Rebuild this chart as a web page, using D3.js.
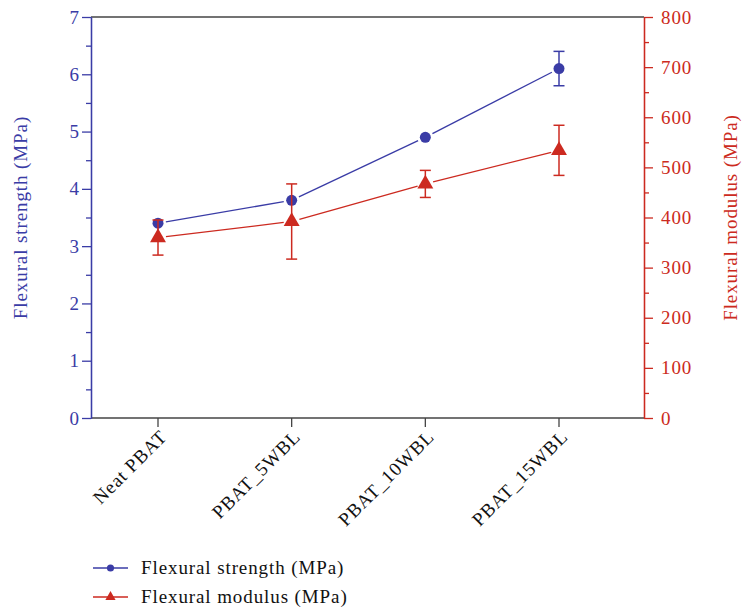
<!DOCTYPE html>
<html>
<head>
<meta charset="utf-8">
<script src="https://cdn.jsdelivr.net/npm/d3@7"></script>
<style>
  body { margin: 0; background: #fff; }
  svg { display: block; font-family: "Liberation Serif", "DejaVu Serif", serif; }
</style>
</head>
<body>
<svg width="746" height="608"></svg>
<script>
// data
var samples = ['Neat PBAT', 'PBAT_5WBL', 'PBAT_10WBL', 'PBAT_15WBL'];
var strength = [3.4, 3.8, 4.9, 6.1];
var strengthErr = [0, 0, 0, 0.3];
var modulus = [360, 392, 467, 534];
var modulusErr = [35, 75, 27, 50];
var leftTicks = [0, 1, 2, 3, 4, 5, 6, 7];
var rightTicks = [0, 100, 200, 300, 400, 500, 600, 700, 800];

var blue = '#3a3ca6';
var red = '#cc2a20';
var frame = '#444';
var fontSize = 19;
var spacing = 0.9;

var plotLeft = 91, plotRight = 644, plotTop = 17, plotBottom = 418;

var svg = d3.select('svg');

var x = d3.scalePoint().domain(samples).range([158, 559]);
var yL = d3.scaleLinear().domain([0, 7]).range([plotBottom, plotTop]);
var yR = d3.scaleLinear().domain([0, 800]).range([plotBottom, plotTop]);

// top frame line
svg.append('line')
  .attr('x1', plotLeft).attr('x2', plotRight)
  .attr('y1', plotTop).attr('y2', plotTop)
  .attr('stroke', frame).attr('stroke-width', 1.3);

// x axis
var gx = svg.append('g')
  .attr('transform', 'translate(0,' + plotBottom + ')');
gx.append('line')
  .attr('x1', plotLeft).attr('x2', plotRight)
  .attr('stroke', frame).attr('stroke-width', 1.3);
gx.selectAll('.xt')
  .data(samples)
  .enter()
  .append('line')
  .attr('x1', d => x(d)).attr('x2', d => x(d))
  .attr('y1', 0).attr('y2', 9)
  .attr('stroke', frame).attr('stroke-width', 1.3);
gx.selectAll('.xl')
  .data(samples)
  .enter()
  .append('text')
  .attr('transform', d => 'translate(' + (x(d) + 10) + ',20) rotate(-45)')
  .attr('text-anchor', 'end')
  .attr('font-size', fontSize)
  .attr('letter-spacing', spacing)
  .attr('fill', '#111')
  .text(d => d);

function styleAxis(g, color) {
  g.selectAll('.domain').attr('stroke', color).attr('stroke-width', 1.3);
  g.selectAll('.tick line').attr('stroke', color).attr('stroke-width', 1.3);
  g.selectAll('.tick text').attr('fill', color).attr('font-size', fontSize)
    .attr('letter-spacing', spacing)
    .attr('font-family', '"Liberation Serif", "DejaVu Serif", serif');
}

// left axis
var gL = svg.append('g').attr('transform', 'translate(' + plotLeft + ',0)');
gL.append('g').call(d3.axisLeft(yL).tickValues(d3.range(0.5, 7, 1)).tickSize(5).tickFormat('').tickSizeOuter(0));
gL.append('g').call(d3.axisLeft(yL).tickValues(leftTicks).tickFormat(d3.format('d')).tickSize(9).tickPadding(2).tickSizeOuter(0));
styleAxis(gL, blue);

// right axis
var gR = svg.append('g').attr('transform', 'translate(' + plotRight + ',0)');
gR.append('g').call(d3.axisRight(yR).tickValues(d3.range(50, 800, 100)).tickSize(5).tickFormat('').tickSizeOuter(0));
gR.append('g').call(d3.axisRight(yR).tickValues(rightTicks).tickFormat(d3.format('d')).tickSize(9).tickPadding(8).tickSizeOuter(0));
styleAxis(gR, red);

// axis titles
svg.append('text')
  .attr('transform', 'translate(27,' + ((plotTop + plotBottom) / 2) + ') rotate(-90)')
  .attr('text-anchor', 'middle')
  .attr('font-size', fontSize)
  .attr('letter-spacing', spacing)
  .attr('fill', blue)
  .text('Flexural strength (MPa)');
svg.append('text')
  .attr('transform', 'translate(737,' + ((plotTop + plotBottom) / 2) + ') rotate(-90)')
  .attr('text-anchor', 'middle')
  .attr('font-size', fontSize)
  .attr('letter-spacing', spacing)
  .attr('fill', red)
  .text('Flexural modulus (MPa)');

// series
var series = [
  { values: strength, err: strengthErr, y: yL, color: blue, shape: d3.symbolCircle, size: 95 },
  { values: modulus, err: modulusErr, y: yR, color: red, shape: d3.symbolTriangle, size: 110 }
];

series.forEach(s => {
  var pts = samples.map((c, i) => ({ x: x(c), y: s.y(s.values[i]), v: s.values[i], e: s.err[i] }));
  var g = svg.append('g');

  // connecting segments, with a small gap at each marker
  var gap = 8;
  for (var i = 0; i < pts.length - 1; i++) {
    var a = pts[i], b = pts[i + 1];
    var dx = b.x - a.x, dy = b.y - a.y, len = Math.sqrt(dx * dx + dy * dy);
    g.append('line')
      .attr('x1', a.x + dx / len * gap).attr('y1', a.y + dy / len * gap)
      .attr('x2', b.x - dx / len * gap).attr('y2', b.y - dy / len * gap)
      .attr('stroke', s.color).attr('stroke-width', 1.3);
  }

  // error bars
  var eb = g.selectAll('.eb')
    .data(pts.filter(p => p.e > 0))
    .enter()
    .append('g');
  eb.append('line')
    .attr('x1', p => p.x).attr('x2', p => p.x)
    .attr('y1', p => s.y(p.v + p.e)).attr('y2', p => s.y(p.v - p.e))
    .attr('stroke', s.color).attr('stroke-width', 1.5);
  [1, -1].forEach(sign => {
    eb.append('line')
      .attr('x1', p => p.x - 5.5).attr('x2', p => p.x + 5.5)
      .attr('y1', p => s.y(p.v + sign * p.e)).attr('y2', p => s.y(p.v + sign * p.e))
      .attr('stroke', s.color).attr('stroke-width', 1.5);
  });

  // markers
  g.selectAll('.mk')
    .data(pts)
    .enter()
    .append('path')
    .attr('d', d3.symbol().type(s.shape).size(s.size))
    .attr('transform', p => 'translate(' + p.x + ',' + p.y + ')')
    .attr('fill', s.color);
});

// legend
var legend = [
  { label: 'Flexural strength (MPa)', color: blue, shape: d3.symbolCircle, size: 40 },
  { label: 'Flexural modulus (MPa)', color: red, shape: d3.symbolTriangle, size: 45 }
];
var lg = svg.selectAll('.lg')
  .data(legend)
  .enter()
  .append('g')
  .attr('transform', (d, i) => 'translate(93,' + (568 + i * 29) + ')');
lg.append('line')
  .attr('x1', 0).attr('x2', 35)
  .attr('stroke', d => d.color).attr('stroke-width', 1.3);
lg.append('path')
  .attr('d', d => d3.symbol().type(d.shape).size(d.size)())
  .attr('transform', 'translate(17.5,0)')
  .attr('fill', d => d.color);
lg.append('text')
  .attr('x', 48).attr('y', 6)
  .attr('font-size', fontSize)
  .attr('letter-spacing', spacing)
  .attr('fill', '#111')
  .text(d => d.label);
</script>
</body>
</html>
